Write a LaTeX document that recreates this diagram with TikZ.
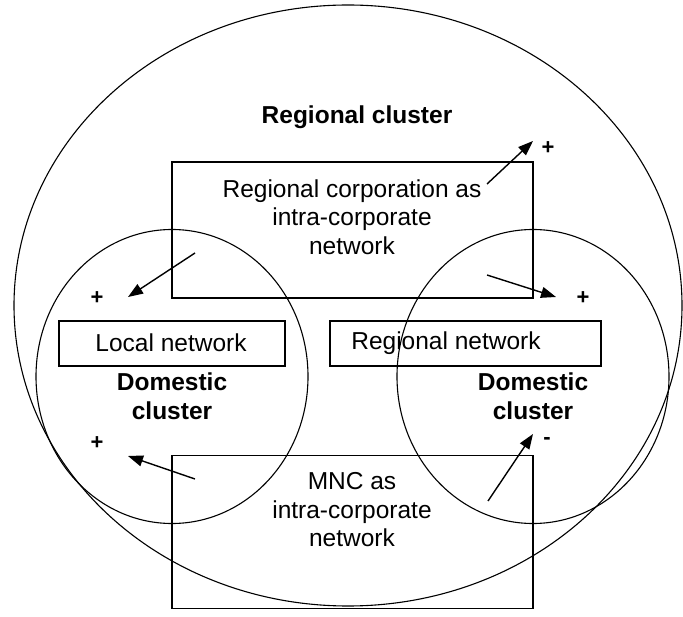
\documentclass[tikz,border=0pt]{standalone}
\usepackage{fontspec}
\setmainfont{Liberation Sans}
\usetikzlibrary{shapes.geometric,arrows.meta}
\tikzset{
  clus/.style={draw, ellipse, inner sep=0pt, line width=1.1pt},
  box/.style={draw, rectangle, inner sep=0pt, line width=1.8pt},
  lbl/.style={align=center, font=\fontsize{24.5}{28.5}\selectfont},
  blbl/.style={align=center, font=\fontsize{24.5}{28.5}\selectfont\bfseries},
  sgn/.style={font=\fontsize{22}{26}\selectfont\bfseries},
  arr/.style={line width=1.4pt, -{Triangle[length=15pt,width=11pt]}}
}
\begin{document}
\begin{tikzpicture}[x=1pt,y=-1pt]
\useasboundingbox (0,0) rectangle (683,617);
% outer regional cluster
\node[clus, minimum width=668pt, minimum height=601pt] (big) at (348,305.5) {};
% rectangles
\node[box, minimum width=361pt, minimum height=136pt] (rc) at (352.5,230) {};
\node[box, minimum width=361pt, minimum height=153pt] (mnc) at (352.5,532) {};
\node[box, line width=1.5pt, minimum width=226pt, minimum height=45pt] (ln) at (172,343.5) {};
\node[box, line width=1.5pt, minimum width=271pt, minimum height=45pt] (rn) at (465.5,343.5) {};
% texts
\node[blbl] (t1) at (357,117) {Regional cluster};
\node[lbl] (t2) at (352,217) {Regional corporation as\\intra-corporate\\network};
\node[lbl] (t3) at (171,343) {Local network};
\node[lbl] (t4) at (446,343) {Regional network};
\node[blbl] (t5) at (172,396) {Domestic\\cluster};
\node[blbl] (t6) at (533,396) {Domestic\\cluster};
\node[lbl] (t7) at (352,510) {MNC as\\intra-corporate\\network};
% domestic clusters
\node[clus, minimum width=272pt, minimum height=294pt] (dl) at (172,376.5) {};
\node[clus, minimum width=272pt, minimum height=294pt] (dr) at (533,376.5) {};
% signs
\node[sgn] (p1) at (548,148) {+};
\node[sgn] (p2) at (583,298) {+};
\node[sgn] (p3) at (97,298) {+};
\node[sgn] (p4) at (97,443) {+};
\node[sgn] (m1) at (547,441) {-};
% arrow end points
\coordinate (a1s) at (487,184); \coordinate (a1e) at (533,141);
\coordinate (a2s) at (195,253); \coordinate (a2e) at (128,297);
\coordinate (a3s) at (487,275); \coordinate (a3e) at (556,297);
\coordinate (a4s) at (195,479); \coordinate (a4e) at (128,456);
\coordinate (a5s) at (488,501); \coordinate (a5e) at (533,434);
\draw[arr] (a1s) -- (a1e);
\draw[arr] (a2s) -- (a2e);
\draw[arr] (a3s) -- (a3e);
\draw[arr] (a4s) -- (a4e);
\draw[arr] (a5s) -- (a5e);
\end{tikzpicture}
\end{document}
